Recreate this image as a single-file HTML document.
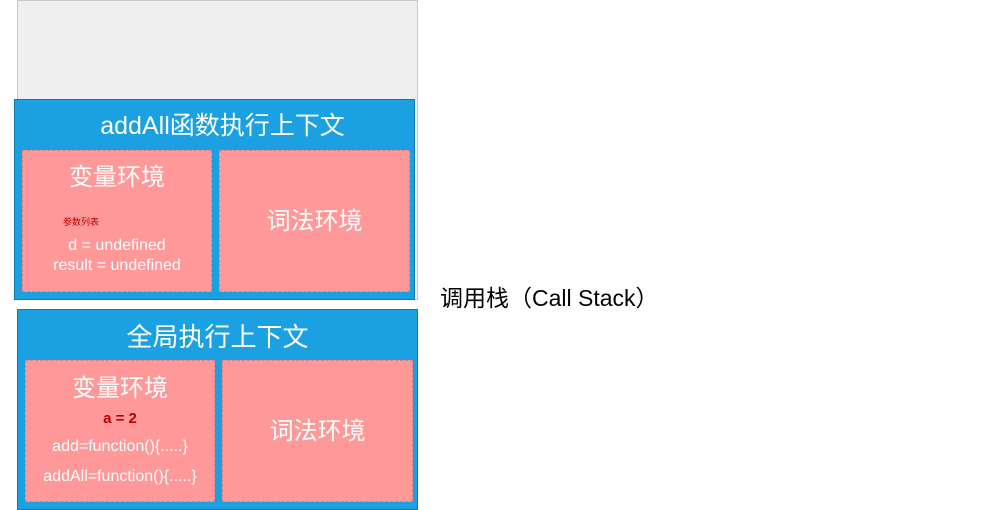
<html><head><style>
body{margin:0;width:994px;height:510px;background:#fff;position:relative;overflow:hidden;font-family:"Liberation Sans","Noto Sans CJK SC",sans-serif}
div{position:absolute;box-sizing:border-box}
.g{left:17px;top:0;width:401px;height:300px;background:#efefef;border:1px solid #c8c8c8}
.b{background:#1ba1e2;border:1px solid #1478b0}
.p{background:#ff9999;border:1px dashed #e08080;color:#fff;text-align:center}
.t{color:#fff;font-size:26px;text-align:center;width:100%}
</style></head><body>
<div class="g"></div>
<div class="b" style="left:14px;top:99px;width:401px;height:201px">
<div class="t" style="top:6px;left:8px;font-size:25px">addAll函数执行上下文</div>
<div class="p" style="left:7px;top:50px;width:190px;height:142px">
<div style="left:0;width:100%;top:6px;font-size:24px">变量环境</div>
<div style="left:40px;top:64px;font-size:9px;color:#c00000">参数列表</div>
<div style="left:0;width:100%;top:85px;font-size:16px;line-height:20px">d = undefined<br>result = undefined</div>
</div>
<div class="p" style="left:204px;top:50px;width:191px;height:142px">
<div style="left:0;width:100%;top:50px;font-size:24px">词法环境</div></div>
</div>
<div class="b" style="left:17px;top:309px;width:401px;height:201px">
<div class="t" style="top:7px;left:0">全局执行上下文</div>
<div class="p" style="left:7px;top:50px;width:190px;height:142px">
<div style="left:0;width:100%;top:7px;font-size:24px">变量环境</div>
<div style="left:0;width:100%;top:49px;font-size:15px;font-weight:bold;color:#c00000">a = 2</div>
<div style="left:0;width:100%;top:77px;font-size:16px">add=function(){.....}</div>
<div style="left:0;width:100%;top:107px;font-size:16px">addAll=function(){.....}</div>
</div>
<div class="p" style="left:204px;top:50px;width:191px;height:142px">
<div style="left:0;width:100%;top:50px;font-size:24px">词法环境</div></div>
</div>
<div style="left:440px;top:279px;font-size:23px;color:#000;white-space:nowrap">调用栈（Call Stack）</div>
</body></html>
